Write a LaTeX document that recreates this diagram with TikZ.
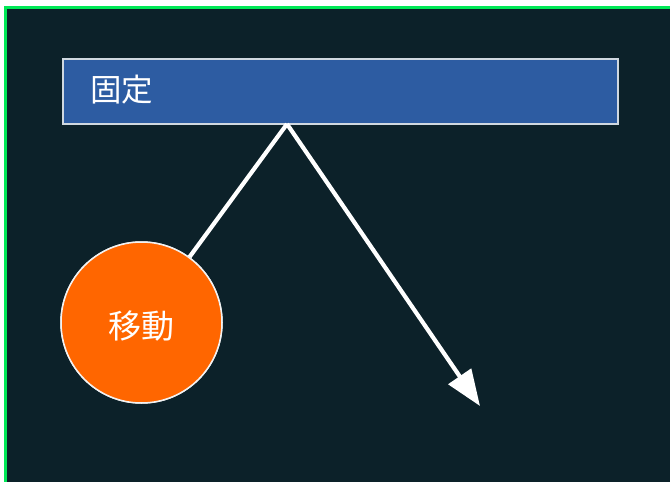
\documentclass[tikz,border=0pt]{standalone}
\usepackage{fontspec}
\newfontfamily\cjk{Noto Sans CJK JP}
\usetikzlibrary{arrows.meta}
\definecolor{bg}{HTML}{0C2129}
\definecolor{frame}{HTML}{00E856}
\definecolor{boxblue}{HTML}{2D5CA2}
\definecolor{boxline}{HTML}{D0D8E0}
\definecolor{ball}{HTML}{FF6600}
\tikzset{
  fixbox/.style={draw=boxline, line width=1.5pt, fill=boxblue, minimum width=555pt, minimum height=65pt, anchor=north west, inner sep=0pt},
  ballnode/.style={circle, draw=white!90!gray, line width=1.5pt, fill=ball, minimum size=161pt, inner sep=0pt},
  rod/.style={draw=white, line width=4.2pt},
  lbl/.style={text=white, font=\cjk\fontsize{31.5}{38}\selectfont, anchor=west, inner sep=0pt},
  balllbl/.style={text=white, font=\cjk\fontsize{33}{40}\selectfont, inner sep=0pt}
}
\begin{document}
\begin{tikzpicture}[x=1pt,y=-1pt]
\useasboundingbox (0,0) rectangle (670,482);
\fill[white] (0,0) rectangle (670,482);
\fill[frame] (4,6) rectangle (670,482);
\fill[bg] (7,9) rectangle (670,482);
\node[fixbox] (box) at (62,58) {};
\node[lbl] (boxlabel) at (90,90) {固定};
\coordinate (pivot) at (287,124);
\coordinate (tip) at (480,406);
\node[ballnode] (ball) at (141.5,322.5) {};
\draw[rod] (pivot) -- (ball);
\node[ballnode] (ballfront) at (141.5,322.5) {};
\node[balllbl] (balltext) at (141,326.5) {移動};
\draw[rod, -{Triangle[length=36pt,width=27pt]}] (pivot) -- (tip);
\end{tikzpicture}
\end{document}
